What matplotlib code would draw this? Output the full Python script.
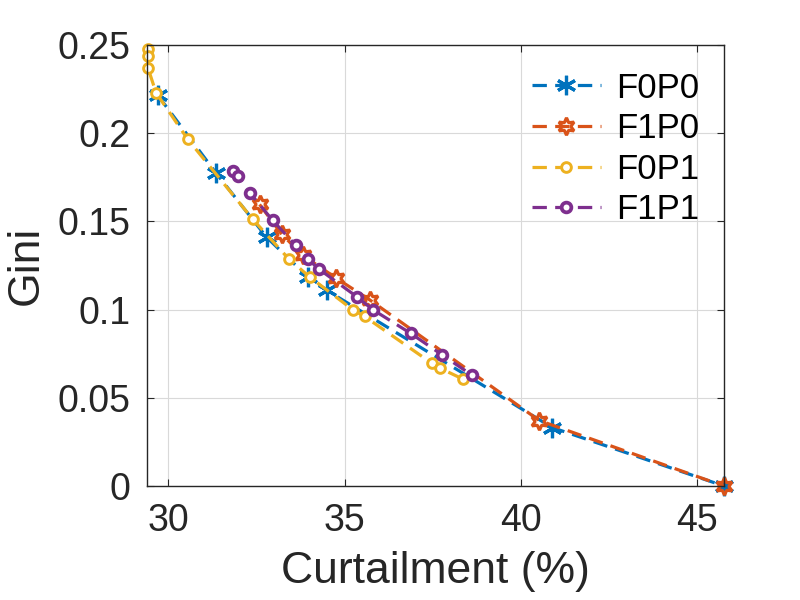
import numpy as np
import matplotlib
matplotlib.use("Agg")
import matplotlib.pyplot as plt

plt.rcParams['font.family'] = ['Liberation Sans', 'DejaVu Sans']

# curtailment (%) and gini for each configuration
x_f0p0 = [29.70, 31.35, 32.79, 33.96, 34.49, 40.90, 45.77]
y_f0p0 = [0.2215, 0.1775, 0.1410, 0.1185, 0.1110, 0.0331, 0.0]

x_f1p0 = [32.59, 33.22, 33.81, 34.75, 35.71, 40.53, 45.77]
y_f1p0 = [0.1596, 0.1427, 0.1309, 0.1180, 0.1056, 0.0371, 0.0]

x_f0p1 = [29.42, 29.42, 29.42, 29.65, 30.55, 32.40, 33.42, 34.01, 35.23, 35.57,
          37.47, 37.70, 38.35]
y_f0p1 = [0.2475, 0.2438, 0.2371, 0.2230, 0.1966, 0.1511, 0.1287, 0.1185, 0.1000,
          0.0961, 0.0697, 0.0669, 0.0607]

x_f1p1 = [31.83, 31.97, 32.31, 32.96, 33.61, 33.96, 34.27, 35.35, 35.80, 36.88,
          37.78, 38.61]
y_f1p1 = [0.1787, 0.1758, 0.1663, 0.1506, 0.1365, 0.1287, 0.1230, 0.1073, 0.1000,
          0.0865, 0.0742, 0.0629]

labels = ["F0P0", "F1P0", "F0P1", "F1P1"]
colors = ["#0072BD", "#D95319", "#EDB120", "#7E2F8E"]

fig = plt.figure(figsize = (8, 6), dpi = 100)
ax = fig.add_axes([0.184, 0.19, 0.721, 0.735])

dash = (4.5, 2.6)
ax.plot(x_f0p0, y_f0p0, color = colors[0], lw = 2.3, dashes = dash, marker = (6, 2, 0),
        ms = 14, mew = 2.3, label = labels[0], clip_on = False)
ax.plot(x_f1p0, y_f1p0, color = colors[1], lw = 2.3, dashes = dash, marker = (6, 1, 0),
        ms = 12.5, mew = 2.3, mfc = "none", label = labels[1], clip_on = False)
ax.plot(x_f0p1, y_f0p1, color = colors[2], lw = 2.3, dashes = dash, marker = "o",
        ms = 7, mew = 2.1, mfc = "white", label = labels[2], clip_on = False)
ax.plot(x_f1p1, y_f1p1, color = colors[3], lw = 2.3, dashes = dash, marker = "o",
        ms = 7, mew = 2.7, mfc = "white", label = labels[3], clip_on = False)

ax.set_xlim(29.4, 45.77)
ax.set_ylim(0, 0.2478)
ax.set_xticks([30, 35, 40, 45])
ax.set_yticks([0, 0.05, 0.1, 0.15, 0.2, 0.25])
ax.set_yticklabels(["0", "0.05", "0.1", "0.15", "0.2", "0.25"])
ax.grid(color = "#d9d9d9", lw = 0.8)
ax.set_axisbelow(True)
ax.tick_params(direction = "in", length = 5, width = 0.8, top = True, right = True,
               labelsize = 27, colors = "#262626", pad = 12)
for s in ax.spines.values():
    s.set_color("#262626")
    s.set_linewidth(1.0)

ax.set_xlabel("Curtailment (%)", fontsize = 32, color = "#262626", labelpad = 9)
ax.set_ylabel("Gini", fontsize = 32, color = "#262626", labelpad = 8)

ax.legend(loc = "upper right", frameon = False, fontsize = 25, handlelength = 2.0,
          labelspacing = 0.22, handletextpad = 0.45, borderaxespad = 0.3,
          bbox_to_anchor = (1.0, 0.995))

fig.savefig("out.png", dpi = 100)
